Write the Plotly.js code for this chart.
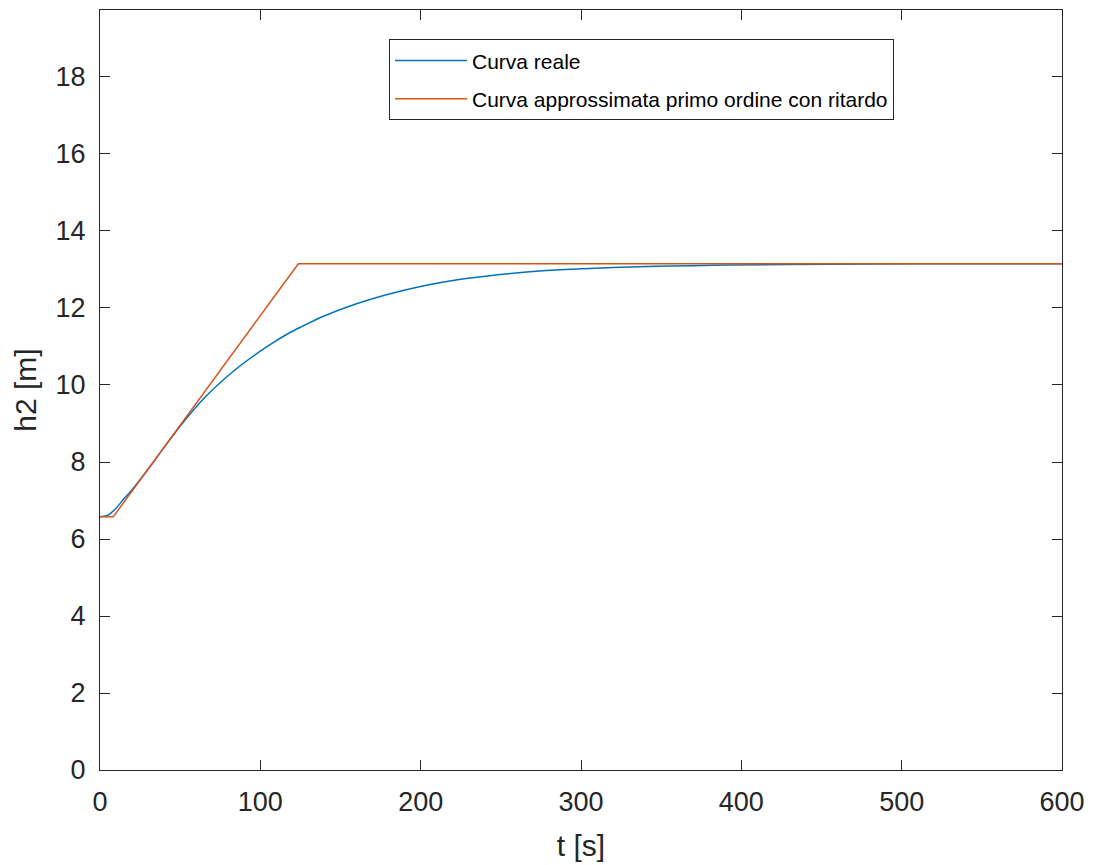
<!DOCTYPE html>
<html>
<head>
<meta charset="utf-8">
<script src="https://cdn.plot.ly/plotly-3.0.1.min.js"></script>
<style>html,body{margin:0;padding:0;background:#fff;}#chart{width:1093px;height:865px;}</style>
</head>
<body>
<div id="chart"></div>
<script>
// Curva reale
var tReale = [0, 5, 10, 15, 20, 30, 40, 50, 65, 83, 100, 108, 118, 125, 139, 160, 181, 202, 222, 243, 270, 290, 320, 341, 370, 393, 430, 480, 540, 600];
var hReale = [6.58, 6.62, 6.80, 7.05, 7.28, 7.81, 8.38, 8.93, 9.66, 10.35, 10.88, 11.10, 11.35, 11.50, 11.78, 12.11, 12.37, 12.58, 12.73, 12.84, 12.95, 13.00, 13.05, 13.08, 13.10, 13.115, 13.13, 13.145, 13.15, 13.15];
// Curva approssimata primo ordine con ritardo
var tApprox = [0, 8.3, 123.7, 600];
var hApprox = [6.58, 6.58, 13.15, 13.15];

var names = ['Curva reale', 'Curva approssimata primo ordine con ritardo'];
var xTicks = [0, 100, 200, 300, 400, 500, 600];
var yTicks = [0, 2, 4, 6, 8, 10, 12, 14, 16, 18];

var axisColor = '#262626';
var fontFam = '"Liberation Sans", Arial, Helvetica, sans-serif';

var traces = [
  {x: tReale, y: hReale, mode: 'lines', name: names[0], legendgroup: 'a',
   line: {color: '#0072BD', width: 1.5, shape: 'spline', smoothing: 0.8}},
  {x: tApprox, y: hApprox, mode: 'lines', name: names[1], legendgroup: 'b',
   line: {color: '#D95319', width: 1.5}}
];

var layout = {
  width: 1093, height: 865,
  margin: {l: 100, r: 31, t: 10, b: 94.5, pad: 0},
  paper_bgcolor: '#fff', plot_bgcolor: '#fff',
  font: {family: fontFam, color: axisColor, size: 27},
  showlegend: true,
  legend: {
    x: 0.3004, y: 0.9615, xanchor: 'left', yanchor: 'top',
    bgcolor: '#fff', bordercolor: axisColor, borderwidth: 1,
    font: {family: fontFam, size: 21, color: '#000'},
    itemwidth: 72, traceorder: 'grouped', tracegroupgap: 8
  },
  xaxis: {
    range: [0, 600], tickvals: xTicks, ticktext: xTicks.map(String),
    ticks: 'inside', ticklen: 10, tickwidth: 1, tickcolor: axisColor,
    showline: true, linecolor: axisColor, linewidth: 1, mirror: 'ticks',
    showgrid: false, zeroline: false,
    tickfont: {family: fontFam, size: 27, color: axisColor},
    ticklabelstandoff: 8,
    title: {text: 't [s]', font: {family: fontFam, size: 30, color: axisColor}, standoff: 18}
  },
  yaxis: {
    range: [0, 19.74], tickvals: yTicks, ticktext: yTicks.map(String),
    ticks: 'inside', ticklen: 10, tickwidth: 1, tickcolor: axisColor,
    showline: true, linecolor: axisColor, linewidth: 1, mirror: 'ticks',
    showgrid: false, zeroline: false,
    tickfont: {family: fontFam, size: 27, color: axisColor},
    ticklabelstandoff: 8,
    title: {text: 'h2 [m]', font: {family: fontFam, size: 30, color: axisColor}, standoff: 10}
  }
};

Plotly.newPlot('chart', traces, layout, {displayModeBar: false, staticPlot: true});
</script>
</body>
</html>
